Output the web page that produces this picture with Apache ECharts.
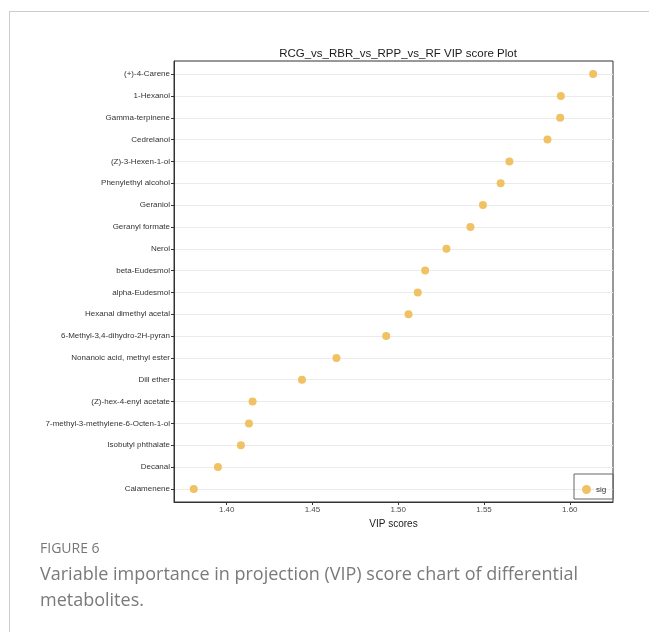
<!DOCTYPE html>
<html>
<head>
<meta charset="utf-8">
<script src="https://cdn.jsdelivr.net/npm/echarts@6/dist/echarts.min.js"></script>
<style>
html,body{margin:0;padding:0;background:#fff;}
#chart{width:649px;height:632px;}
</style>
</head>
<body>
<div id="chart"></div>
<script>
var categories = ["(+)-4-Carene","1-Hexanol","Gamma-terpinene","Cedrelanol","(Z)-3-Hexen-1-ol","Phenylethyl alcohol","Geraniol","Geranyl formate","Nerol","beta-Eudesmol","alpha-Eudesmol","Hexanal dimethyl acetal","6-Methyl-3,4-dihydro-2H-pyran","Nonanoic acid, methyl ester","Dill ether","(Z)-hex-4-enyl acetate","7-methyl-3-methylene-6-Octen-1-ol","Isobutyl phthalate","Decanal","Calamenene"];
var vipScores = [1.6136,1.5948,1.5944,1.5870,1.5648,1.5597,1.5494,1.5421,1.5281,1.5157,1.5114,1.5060,1.4930,1.4640,1.4439,1.4151,1.4130,1.4083,1.3949,1.3808];
var xTicks = [1.40,1.45,1.50,1.55,1.60];
var seriesName = "sig";

var idx = categories.map(function(_, i){ return i; });
var data = vipScores.map(function(v, i){ return [v, i]; });

var chart = echarts.init(document.getElementById('chart'));
chart.setOption({
  backgroundColor: '#fff',
  animation: false,
  title: {
    text: 'RCG_vs_RBR_vs_RPP_vs_RF VIP score Plot',
    left: 393, top: 43, textAlign: 'center',
    textStyle: {fontFamily: 'Liberation Sans', fontSize: 11.5, fontWeight: 'normal', color: '#1a1a1a'}
  },
  legend: {
    data: [seriesName],
    left: 574, top: 474,
    orient: 'vertical',
    padding: [11, 7, 5, 8],
    itemWidth: 9, itemHeight: 9, itemGap: 0,
    borderColor: '#666', borderWidth: 1, borderRadius: 0,
    textStyle: {fontFamily: 'Liberation Sans', fontSize: 8, color: '#333'},
    icon: 'circle'
  },
  grid: {
    left: 174, right: 36, top: 61, bottom: 130,
    show: true, borderColor: '#333', borderWidth: 1, backgroundColor: 'transparent'
  },
  xAxis: {
    type: 'value', min: 1.3693, max: 1.6252,
    name: 'VIP scores', nameLocation: 'middle', nameGap: 17,
    nameTextStyle: {fontFamily: 'Liberation Sans', fontSize: 10, color: '#1a1a1a'},
    axisLine: {show: true, onZero: false, lineStyle: {color: '#333', width: 1}},
    axisTick: {show: true, length: 3, lineStyle: {color: '#333'}, customValues: xTicks},
    axisLabel: {customValues: xTicks, fontFamily: 'Liberation Sans', fontSize: 8, color: '#4d4d4d', margin: 4,
      formatter: function(v){ return v.toFixed(2); }},
    splitLine: {show: false}
  },
  yAxis: {
    type: 'value', min: -0.6, max: 19.6, inverse: true,
    axisLine: {show: true, onZero: false, lineStyle: {color: '#333', width: 1}},
    axisTick: {show: true, length: 3, lineStyle: {color: '#333'}, customValues: idx},
    axisLabel: {customValues: idx, fontFamily: 'Liberation Sans', fontSize: 8, color: '#333', margin: 4,
      formatter: function(v){ return categories[Math.round(v)]; }},
    splitLine: {show: true, lineStyle: {color: '#ebebeb', width: 1}}
  },
  series: [{
    name: seriesName, type: 'scatter', data: data,
    symbol: 'circle', symbolSize: 8,
    itemStyle: {color: '#F1C263', opacity: 1}
  }],
  graphic: [
    {type: 'line', shape: {x1: 9.5, y1: 11, x2: 9.5, y2: 632}, style: {stroke: '#cccccc', lineWidth: 1}},
    {type: 'line', shape: {x1: 9, y1: 11.5, x2: 649, y2: 11.5}, style: {stroke: '#cccccc', lineWidth: 1}},
    {type: 'text', left: 40, top: 542, style: {text: 'FIGURE 6', font: '14px "Open Sans"', fill: '#777'}},
    {type: 'text', left: 40, top: 566, style: {text: 'Variable importance in projection (VIP) score chart of differential', font: '18px "Open Sans"', fill: '#7a7a7a'}},
    {type: 'text', left: 40, top: 592, style: {text: 'metabolites.', font: '18px "Open Sans"', fill: '#7a7a7a'}}
  ]
});
</script>
</body>
</html>
